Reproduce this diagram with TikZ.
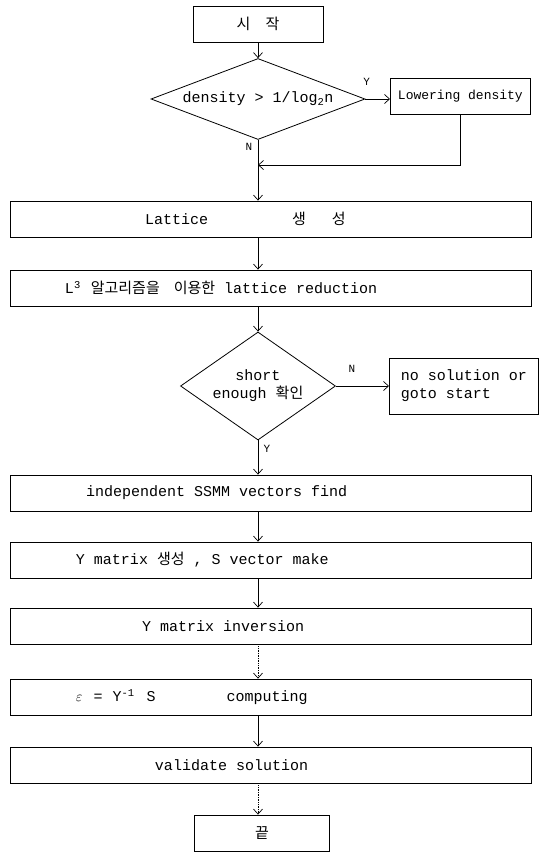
\documentclass[tikz,border=0pt]{standalone}
\usepackage{fontspec}
\setmonofont{Liberation Mono}
\newfontfamily\kr{Noto Sans CJK KR}
\usetikzlibrary{calc, shapes.geometric, arrows.meta, positioning}

\newcommand{\fs}{\fontsize{15}{18}\selectfont\ttfamily}

\tikzset{
  box/.style={draw, line width=0.8pt, minimum height=36pt, inner sep=4pt, font=\fs},
  wbox/.style={box, minimum width=521pt, text width=505pt, align=flush left},
  dia/.style={draw, diamond, line width=0.8pt, inner sep=0pt, font=\fs, align=center},
  flow/.style={line width=0.7pt, -{Straight Barb[length=5pt,width=9pt]}},
  yn/.style={font=\fontsize{11}{13}\selectfont\ttfamily}
}

\begin{document}
\begin{tikzpicture}[x=1pt, y=-1pt]
        \useasboundingbox (0,0) rectangle (544,854);
        \pgfmathsetmacro{\mx}{258}
        \pgfmathsetmacro{\cx}{270.5}
        % column of the flow
        \node[box, minimum width=130pt] (start) at (\mx,24) {{\kr 시\quad 작}};
        \node[dia, aspect=3, minimum width=214pt, minimum height=81pt] (dens) at (\mx,99) {density > 1/log\textsubscript{2}n};
        \node[box, minimum width=140pt, anchor=west, font=\fontsize{13}{15}\selectfont\ttfamily] (low) at (390,96) {Lowering density};
        \coordinate (join) at (\mx,165);
        \node[wbox] (lat) at (\cx,219) {\hspace*{127pt}Lattice\hspace{84pt}{\kr 생}\hspace{26pt}{\kr 성}};
        \node[wbox] (red) at (\cx,288) {\hspace*{47pt}L\textsuperscript{3}\hspace{10pt}{\kr 알고리즘을}\hspace{14pt}{\kr 이용한}\hspace{9pt}lattice reduction};
        \node[dia, aspect=1.4, minimum width=155pt, minimum height=108pt] (chk) at (\mx,386) {short\\enough {\kr 확인}};
        \node[box, anchor=west, minimum width=149pt, minimum height=56pt, align=flush left] (nosol) at (389,386) {no solution or\\goto start};
        \node[wbox] (ind) at (\cx,493) {\hspace*{68pt}independent SSMM vectors find};
        \node[wbox] (ymat) at (\cx,560) {\hspace*{58pt}Y matrix {\kr 생성} , S vector make};
        \node[wbox] (inv) at (\cx,626) {\hspace*{124pt}Y matrix inversion};
        \node[wbox] (eps) at (\cx,697) {\hspace*{58pt}$\varepsilon$\hspace{11pt}=\hspace{10pt}Y\textsuperscript{-1}\hspace{12pt}S\hspace{71pt}computing};
        \node[wbox] (val) at (\cx,765) {\hspace*{137pt}validate solution};
        \node[box, minimum width=135pt] (end) at (262,833) {{\kr 끝}};
        % connectors
        \draw[flow] (start) -- (dens);
        \draw[flow] (dens.east) -- (dens.east -| low.west) node[yn, pos=0.05, above=10pt] {Y};
        \draw[flow] (low.south) |- (join);
        \draw[flow] (dens.south) -- (dens.south |- lat.north) node[yn, pos=0.12, left=2pt] {N};
        \draw[flow] (dens.south |- lat.south) -- (dens.south |- red.north);
        \draw[flow] (dens.south |- red.south) -- (chk.north);
        \draw[flow] (chk.east) -- (nosol.west) node[yn, pos=0.3, above=10pt] {N};
        \draw[flow] (chk.south) -- (chk.south |- ind.north) node[yn, pos=0.25, right=2pt] {Y};
        \draw[flow] (chk.south |- ind.south) -- (chk.south |- ymat.north);
        \draw[flow] (chk.south |- ymat.south) -- (chk.south |- inv.north);
        \draw[flow, densely dotted] (chk.south |- inv.south) -- (chk.south |- eps.north);
        \draw[flow] (chk.south |- eps.south) -- (chk.south |- val.north);
        \draw[flow, densely dotted] (chk.south |- val.south) -- (chk.south |- end.north);
\end{tikzpicture}
\end{document}
